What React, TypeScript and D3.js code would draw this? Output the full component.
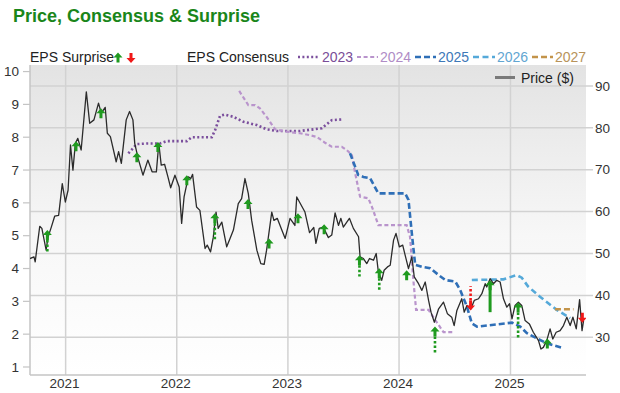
import * as d3 from "d3";
import { useEffect, useRef } from "react";

type Pt = [string, number];
type Surprise = {
  date: string;
  tip: number;
  tail: number;
  dir: "up" | "down";
  stem: "none" | "dotted" | "solid";
};

const W = 620;
const H = 393;
const plot = { left: 30, right: 586, top: 65, bottom: 375 };
const FONT = "'Liberation Sans', Arial, Helvetica, sans-serif";

// price ($), right axis
const priceData: Pt[] = [
  ["2020-09-06", 48.8], ["2020-09-19", 49.2], ["2020-09-23", 48.0], ["2020-10-08", 56.5],
  ["2020-10-15", 56.0], ["2020-10-29", 50.8], ["2020-11-04", 53.9], ["2020-11-15", 56.3],
  ["2020-11-26", 58.9], ["2020-12-09", 59.1], ["2020-12-21", 66.7], ["2020-12-31", 62.3],
  ["2021-01-09", 65.1], ["2021-01-17", 75.9], ["2021-01-25", 69.9], ["2021-02-02", 76.3],
  ["2021-02-10", 77.5], ["2021-02-21", 74.7], ["2021-03-10", 88.6], ["2021-03-21", 81.1],
  ["2021-04-04", 81.9], ["2021-04-19", 85.9], ["2021-04-28", 83.5], ["2021-05-11", 84.9],
  ["2021-05-18", 78.7], ["2021-05-28", 77.9], ["2021-06-16", 71.9], ["2021-06-24", 74.3],
  ["2021-07-03", 71.5], ["2021-07-19", 81.9], ["2021-07-30", 83.9], ["2021-08-10", 81.9],
  ["2021-08-16", 76.3], ["2021-08-27", 72.7], ["2021-09-12", 68.7], ["2021-09-28", 72.3],
  ["2021-10-12", 69.5], ["2021-10-26", 69.5], ["2021-11-03", 76.3], ["2021-11-11", 71.1],
  ["2021-11-22", 71.3], ["2021-12-03", 68.3], ["2021-12-12", 65.7], ["2021-12-26", 68.7],
  ["2022-01-09", 65.9], ["2022-01-17", 57.2], ["2022-01-25", 63.5], ["2022-02-08", 68.3],
  ["2022-02-16", 67.9], ["2022-02-22", 68.9], ["2022-03-07", 61.1], ["2022-03-18", 60.3],
  ["2022-04-04", 51.2], ["2022-04-11", 52.0], ["2022-04-22", 50.4], ["2022-05-01", 53.9],
  ["2022-05-10", 59.9], ["2022-05-17", 56.0], ["2022-05-29", 57.5], ["2022-06-14", 51.6],
  ["2022-06-25", 53.6], ["2022-07-06", 55.6], ["2022-07-22", 61.9], ["2022-08-02", 63.1],
  ["2022-08-13", 67.9], ["2022-08-24", 64.3], ["2022-09-04", 57.9], ["2022-09-21", 50.8],
  ["2022-10-04", 47.6], ["2022-10-15", 47.4], ["2022-10-23", 50.8], ["2022-11-09", 59.9],
  ["2022-11-16", 57.9], ["2022-11-27", 58.4], ["2022-12-12", 55.6], ["2022-12-23", 53.6],
  ["2023-01-08", 58.4], ["2023-01-24", 56.7], ["2023-01-30", 63.5], ["2023-02-08", 62.3],
  ["2023-02-26", 59.9], ["2023-03-13", 55.0], ["2023-03-27", 56.2], ["2023-04-03", 52.4],
  ["2023-04-14", 56.0], ["2023-04-27", 56.3], ["2023-05-14", 53.8], ["2023-05-25", 54.4],
  ["2023-06-05", 59.7], ["2023-06-16", 56.7], ["2023-06-24", 58.4], ["2023-07-02", 56.3],
  ["2023-07-22", 58.4], ["2023-08-04", 56.0], ["2023-08-21", 54.0], ["2023-08-26", 49.2],
  ["2023-09-06", 48.8], ["2023-09-17", 47.6], ["2023-09-26", 48.8], ["2023-10-09", 48.4],
  ["2023-10-18", 50.0], ["2023-10-25", 45.6], ["2023-11-05", 43.6], ["2023-11-13", 46.0],
  ["2023-11-24", 46.8], ["2023-12-03", 47.2], ["2023-12-14", 53.2], ["2023-12-22", 54.8],
  ["2024-01-02", 51.6], ["2024-01-13", 52.0], ["2024-01-21", 49.6], ["2024-02-01", 46.4],
  ["2024-02-12", 49.2], ["2024-02-20", 44.4], ["2024-03-05", 42.8], ["2024-03-16", 41.2],
  ["2024-03-27", 43.2], ["2024-04-07", 38.8], ["2024-04-15", 36.0], ["2024-04-26", 33.6],
  ["2024-05-10", 36.8], ["2024-05-26", 38.4], ["2024-06-08", 35.6], ["2024-06-22", 34.8],
  ["2024-06-30", 32.8], ["2024-07-09", 36.4], ["2024-07-25", 39.2], ["2024-08-02", 36.0],
  ["2024-08-11", 37.6], ["2024-08-24", 36.8], ["2024-09-04", 38.8], ["2024-09-18", 39.2],
  ["2024-09-29", 40.4], ["2024-10-10", 42.8], ["2024-10-15", 42.0], ["2024-10-26", 44.0],
  ["2024-11-06", 42.8], ["2024-11-17", 43.6], ["2024-11-28", 43.2], ["2024-12-09", 39.2],
  ["2024-12-20", 37.2], ["2024-12-29", 38.0], ["2025-01-06", 34.4], ["2025-01-16", 37.6],
  ["2025-01-27", 38.4], ["2025-02-07", 37.6], ["2025-02-18", 34.0], ["2025-03-04", 33.2],
  ["2025-03-17", 31.2], ["2025-04-03", 29.2], ["2025-04-11", 27.2], ["2025-04-19", 27.6],
  ["2025-04-30", 29.2], ["2025-05-11", 32.0], ["2025-05-20", 29.6], ["2025-05-31", 31.2],
  ["2025-06-13", 31.6], ["2025-06-24", 32.8], ["2025-07-05", 34.8], ["2025-07-16", 32.8],
  ["2025-07-25", 34.8], ["2025-08-05", 32.0], ["2025-08-16", 39.0], ["2025-08-24", 31.6],
  ["2025-08-29", 34.0],
];

// EPS consensus by fiscal year, left axis
const eps2023: Pt[] = [
  ["2021-07-26", 7.51], ["2021-08-11", 7.67], ["2021-08-22", 7.79], ["2021-09-28", 7.81],
  ["2021-11-07", 7.81], ["2021-11-29", 7.88], ["2022-02-03", 7.88], ["2022-02-19", 8.0],
  ["2022-04-26", 8.0], ["2022-05-07", 8.22], ["2022-05-23", 8.65], ["2022-06-08", 8.69],
  ["2022-07-06", 8.62], ["2022-08-08", 8.47], ["2022-09-21", 8.37], ["2022-10-23", 8.24],
  ["2022-11-25", 8.19], ["2023-02-10", 8.19], ["2023-03-26", 8.24], ["2023-04-22", 8.27],
  ["2023-05-25", 8.52], ["2023-06-27", 8.54],
];
const eps2024: Pt[] = [
  ["2022-07-25", 9.41], ["2022-08-24", 8.98], ["2022-09-15", 8.98], ["2022-10-01", 8.88],
  ["2022-10-23", 8.62], ["2022-11-20", 8.24], ["2022-12-28", 8.17], ["2023-02-10", 8.12],
  ["2023-03-15", 8.06], ["2023-04-06", 8.01], ["2023-05-03", 7.83], ["2023-05-25", 7.71],
  ["2023-06-27", 7.71], ["2023-07-13", 7.61], ["2023-07-30", 7.46], ["2023-08-10", 6.9],
  ["2023-08-26", 6.19], ["2023-09-22", 6.14], ["2023-10-04", 5.88], ["2023-10-25", 5.32],
  ["2024-01-26", 5.32], ["2024-02-06", 4.97], ["2024-02-17", 3.65], ["2024-02-26", 2.74],
  ["2024-04-07", 2.74], ["2024-04-29", 2.43], ["2024-05-21", 2.13], ["2024-05-26", 2.06],
  ["2024-06-28", 2.06],
];
const eps2025: Pt[] = [
  ["2023-07-24", 7.51], ["2023-08-20", 6.85], ["2023-09-06", 6.79], ["2023-09-28", 6.75],
  ["2023-10-25", 6.29], ["2024-01-21", 6.29], ["2024-02-01", 6.09], ["2024-02-12", 5.07],
  ["2024-02-23", 4.11], ["2024-03-16", 4.05], ["2024-04-12", 4.01], ["2024-05-10", 3.8],
  ["2024-06-01", 3.65], ["2024-07-04", 3.6], ["2024-07-20", 3.34], ["2024-08-11", 2.84],
  ["2024-08-27", 2.33], ["2024-09-13", 2.23], ["2025-01-06", 2.35], ["2025-02-02", 2.23],
  ["2025-02-24", 2.03], ["2025-03-29", 1.87], ["2025-04-30", 1.72], ["2025-06-24", 1.57],
];
const eps2026: Pt[] = [
  ["2024-08-27", 3.65], ["2024-12-09", 3.67], ["2025-01-21", 3.8], ["2025-02-07", 3.72],
  ["2025-02-28", 3.45], ["2025-04-08", 3.14], ["2025-06-02", 2.74], ["2025-07-16", 2.49],
];
const eps2027: Pt[] = [
  ["2025-05-27", 2.76], ["2025-07-27", 2.76],
];

// earnings surprises: arrow tip and tail, in price terms
const surprises: Surprise[] = [
  { date: "2020-11-02", tip: 55.6, tail: 50.3, dir: "up", stem: "dotted" },
  { date: "2021-02-04", tip: 76.8, tail: 76.8, dir: "up", stem: "none" },
  { date: "2021-04-27", tip: 84.7, tail: 84.7, dir: "up", stem: "none" },
  { date: "2021-08-23", tip: 74.2, tail: 74.2, dir: "up", stem: "none" },
  { date: "2021-10-31", tip: 76.6, tail: 76.6, dir: "up", stem: "none" },
  { date: "2022-02-03", tip: 68.7, tail: 68.7, dir: "up", stem: "none" },
  { date: "2022-05-06", tip: 59.6, tail: 53.2, dir: "up", stem: "dotted" },
  { date: "2022-08-23", tip: 63.0, tail: 63.0, dir: "up", stem: "none" },
  { date: "2022-10-31", tip: 53.6, tail: 53.6, dir: "up", stem: "none" },
  { date: "2023-02-03", tip: 59.6, tail: 59.6, dir: "up", stem: "none" },
  { date: "2023-04-30", tip: 57.0, tail: 57.0, dir: "up", stem: "none" },
  { date: "2023-08-24", tip: 49.6, tail: 44.5, dir: "up", stem: "dotted" },
  { date: "2023-10-28", tip: 46.5, tail: 41.0, dir: "up", stem: "dotted" },
  { date: "2024-01-26", tip: 46.0, tail: 46.0, dir: "up", stem: "none" },
  { date: "2024-04-28", tip: 32.6, tail: 26.1, dir: "up", stem: "dotted" },
  { date: "2024-08-23", tip: 36.4, tail: 42.2, dir: "down", stem: "dotted" },
  { date: "2024-10-26", tip: 43.6, tail: 36.0, dir: "up", stem: "solid" },
  { date: "2025-01-26", tip: 38.3, tail: 29.9, dir: "up", stem: "dotted" },
  { date: "2025-05-02", tip: 29.7, tail: 29.7, dir: "up", stem: "none" },
  { date: "2025-08-25", tip: 33.5, tail: 33.5, dir: "down", stem: "none" },
];

const epsTicks = [1, 2, 3, 4, 5, 6, 7, 8, 9, 10];
const priceTicks = [30, 40, 50, 60, 70, 80, 90];

const consensusSeries = [
  { label: "2023", data: eps2023, color: "#7b4f9d", text: "#7a4d98", dash: "2,2.4", width: 2.6, lx: 298, tx: 322 },
  { label: "2024", data: eps2024, color: "#b994cc", text: "#b08cc6", dash: "4,2.6", width: 2.2, lx: 357, tx: 380 },
  { label: "2025", data: eps2025, color: "#2f6fb7", text: "#3d78b8", dash: "6,3", width: 2.6, lx: 415, tx: 438 },
  { label: "2026", data: eps2026, color: "#55a9d9", text: "#62a6d2", dash: "6,3.5", width: 2.6, lx: 473, tx: 497 },
  { label: "2027", data: eps2027, color: "#c3944a", text: "#b8935a", dash: "6,3", width: 2.6, lx: 532, tx: 555 },
];

const parse = d3.timeParse("%Y-%m-%d");
const GREEN = "#1f9a1f";
const RED = "#f01818";

const arrowPath = (cx: number, ty: number, dir: "up" | "down") => {
  const s = dir === "up" ? 1 : -1;
  return `M${cx},${ty} L${cx + 4.5},${ty + 5 * s} L${cx + 1.5},${ty + 5 * s} L${cx + 1.5},${ty + 10 * s} L${cx - 1.5},${ty + 10 * s} L${cx - 1.5},${ty + 5 * s} L${cx - 4.5},${ty + 5 * s} Z`;
};

const App = () => {
  const svgRef = useRef<SVGSVGElement | null>(null);

  useEffect(() => {
    const svg = d3.select(svgRef.current);
    svg.selectAll("*").remove();
    svg.style("font-family", FONT);

    const x = d3
      .scaleTime()
      .domain([new Date(2020, 8, 6), new Date(2025, 8, 6)])
      .range([plot.left, plot.right]);
    const yL = d3.scaleLinear().domain([0.756, 10.2]).range([plot.bottom, plot.top]);
    const yR = d3.scaleLinear().domain([21, 95]).range([plot.bottom, plot.top]);

    // background gradient
    const defs = svg.append("defs");
    const grad = defs
      .append("linearGradient")
      .attr("id", "bg")
      .attr("x1", 0).attr("y1", 0).attr("x2", 0).attr("y2", 1);
    grad.append("stop").attr("offset", "0%").attr("stop-color", "#e3e3e3");
    grad.append("stop").attr("offset", "55%").attr("stop-color", "#f7f7f7");
    grad.append("stop").attr("offset", "100%").attr("stop-color", "#ffffff");
    defs
      .append("clipPath")
      .attr("id", "plotClip")
      .append("rect")
      .attr("x", plot.left)
      .attr("y", plot.top)
      .attr("width", plot.right - plot.left)
      .attr("height", plot.bottom - plot.top);

    svg.append("rect").attr("width", W).attr("height", H).attr("fill", "#ffffff");
    svg
      .append("rect")
      .attr("x", plot.left)
      .attr("y", plot.top)
      .attr("width", plot.right - plot.left)
      .attr("height", plot.bottom - plot.top)
      .attr("fill", "url(#bg)");

    // title
    svg
      .append("text")
      .attr("x", 13)
      .attr("y", 22)
      .attr("font-size", 18)
      .attr("font-weight", "bold")
      .attr("fill", "#1a861a")
      .text("Price, Consensus & Surprise");

    // grid
    const grid = svg.append("g");
    grid
      .selectAll("line.h")
      .data(priceTicks)
      .join("line")
      .attr("class", "h")
      .attr("x1", plot.left)
      .attr("x2", plot.right + 7)
      .attr("y1", (d) => yR(d))
      .attr("y2", (d) => yR(d))
      .attr("stroke", "#d2d2d2")
      .attr("stroke-width", 1.5);
    const years = d3.timeYear.range(new Date(2021, 0, 1), new Date(2025, 1, 1));
    grid
      .selectAll("line.v")
      .data(years)
      .join("line")
      .attr("class", "v")
      .attr("x1", (d) => x(d))
      .attr("x2", (d) => x(d))
      .attr("y1", plot.top)
      .attr("y2", plot.bottom)
      .attr("stroke", "#d2d2d2")
      .attr("stroke-width", 1.5);

    // axes frame
    svg
      .append("line")
      .attr("x1", plot.left).attr("x2", plot.left)
      .attr("y1", plot.top).attr("y2", plot.bottom)
      .attr("stroke", "#c4c4c4").attr("stroke-width", 1.5);
    svg
      .append("line")
      .attr("x1", plot.left).attr("x2", plot.right)
      .attr("y1", plot.bottom).attr("y2", plot.bottom)
      .attr("stroke", "#c4c4c4").attr("stroke-width", 1.5);

    // left axis
    const left = svg.append("g");
    left
      .selectAll("line")
      .data(epsTicks)
      .join("line")
      .attr("x1", 23).attr("x2", plot.left)
      .attr("y1", (d) => yL(d)).attr("y2", (d) => yL(d))
      .attr("stroke", "#c4c4c4").attr("stroke-width", 1.2);
    left
      .selectAll("text")
      .data(epsTicks)
      .join("text")
      .attr("x", 19)
      .attr("y", (d) => yL(d))
      .attr("dy", "0.35em")
      .attr("text-anchor", "end")
      .attr("font-size", 13.5)
      .attr("fill", "#333")
      .text((d) => d);

    // right axis
    svg
      .append("g")
      .selectAll("text")
      .data(priceTicks)
      .join("text")
      .attr("x", 595)
      .attr("y", (d) => yR(d))
      .attr("dy", "0.35em")
      .attr("font-size", 13.5)
      .attr("fill", "#333")
      .text((d) => d);

    // x axis
    svg
      .append("g")
      .selectAll("text")
      .data(years)
      .join("text")
      .attr("x", (d) => x(d) - 1)
      .attr("y", 388)
      .attr("text-anchor", "middle")
      .attr("font-size", 13.5)
      .attr("fill", "#333")
      .text((d) => d3.timeFormat("%Y")(d));

    const plotG = svg.append("g").attr("clip-path", "url(#plotClip)");

    // consensus lines
    const epsLine = d3
      .line<Pt>()
      .x((d) => x(parse(d[0]) as Date))
      .y((d) => yL(d[1]));
    consensusSeries.forEach((s) => {
      plotG
        .append("path")
        .attr("d", epsLine(s.data))
        .attr("fill", "none")
        .attr("stroke", s.color)
        .attr("stroke-width", s.width)
        .attr("stroke-dasharray", s.dash);
    });

    // price line
    const priceLine = d3
      .line<Pt>()
      .x((d) => x(parse(d[0]) as Date))
      .y((d) => yR(d[1]));
    plotG
      .append("path")
      .attr("d", priceLine(priceData))
      .attr("fill", "none")
      .attr("stroke", "#2b2b2b")
      .attr("stroke-width", 1.3)
      .attr("stroke-linejoin", "round");

    // surprise arrows
    surprises.forEach((s) => {
      const cx = x(parse(s.date) as Date);
      const ty = yR(s.tip);
      const tl = yR(s.tail);
      const col = s.dir === "up" ? GREEN : RED;
      const sgn = s.dir === "up" ? 1 : -1;
      if (s.stem === "dotted" && Math.abs(tl - ty) > 10) {
        plotG
          .append("line")
          .attr("x1", cx).attr("x2", cx)
          .attr("y1", ty + 10 * sgn).attr("y2", tl)
          .attr("stroke", col)
          .attr("stroke-width", 2.6)
          .attr("stroke-dasharray", "2.5,2");
      }
      if (s.stem === "solid") {
        plotG
          .append("line")
          .attr("x1", cx).attr("x2", cx)
          .attr("y1", ty + 5 * sgn).attr("y2", tl)
          .attr("stroke", col)
          .attr("stroke-width", 3);
      }
      plotG.append("path").attr("d", arrowPath(cx, ty, s.dir)).attr("fill", col);
    });

    // legends
    const leg = svg.append("g").attr("font-size", 14);
    leg.append("text").attr("x", 30).attr("y", 62).attr("fill", "#222").text("EPS Surprise");
    leg.append("path").attr("d", arrowPath(118, 52.5, "up")).attr("fill", GREEN);
    leg.append("path").attr("d", arrowPath(131, 63, "down")).attr("fill", RED);
    leg.append("text").attr("x", 187).attr("y", 62).attr("fill", "#222").text("EPS Consensus");
    consensusSeries.forEach((s) => {
      leg
        .append("line")
        .attr("x1", s.lx).attr("x2", s.tx - 2)
        .attr("y1", 57).attr("y2", 57)
        .attr("stroke", s.color)
        .attr("stroke-width", s.width)
        .attr("stroke-dasharray", s.dash);
      leg.append("text").attr("x", s.tx).attr("y", 62).attr("fill", s.text).text(s.label);
    });
    leg
      .append("line")
      .attr("x1", 495).attr("x2", 515)
      .attr("y1", 77.5).attr("y2", 77.5)
      .attr("stroke", "#7a7a7a").attr("stroke-width", 3);
    leg.append("text").attr("x", 521).attr("y", 82.5).attr("fill", "#222").text("Price ($)");
  }, []);

  return (
    <svg
      ref={svgRef}
      width={W}
      height={H}
      style={{ position: "absolute", left: 0, top: 0 }}
    />
  );
};

export default App;
